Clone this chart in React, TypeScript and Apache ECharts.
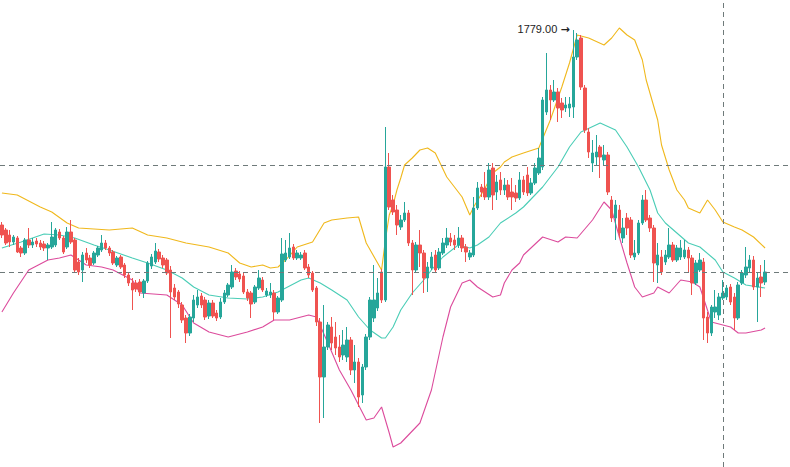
import React, { useEffect, useRef } from "react";
import * as echarts from "echarts";

// candle count and empty slots to the right edge
const categories: string[] = Array.from({ length: 206 }, (_, i) => String(i + 1));

const opens = [
  1681.5, 1679, 1676.5, 1673, 1675, 1670, 1667.5, 1674, 1671.5, 1673.5,
  1672.5, 1672, 1670, 1670.5, 1671.5, 1678, 1675, 1670.5, 1678, 1674,
  1663, 1659, 1667.5, 1665, 1662.5, 1666.5, 1669, 1672.5, 1670, 1668,
  1661.5, 1665.5, 1661.5, 1656.5, 1652.5, 1652.5, 1653, 1647.5, 1653.5, 1661,
  1663, 1668, 1665, 1664, 1659, 1650, 1648, 1641.5, 1635, 1627.5,
  1635, 1641.5, 1646, 1644, 1636, 1642.5, 1637.5, 1635.5, 1643, 1646.5,
  1650.5, 1658.5, 1657, 1656, 1648, 1647.5, 1643, 1650, 1654, 1646.5,
  1646.5, 1647.5, 1638, 1644, 1664, 1665.5, 1670.5, 1665, 1665, 1667.5,
  1660.5, 1657.5, 1650, 1633, 1605.5, 1620.5, 1630.5, 1625.5, 1620.5, 1616.5,
  1615.5, 1624, 1609, 1613, 1596.5, 1610.5, 1625.5, 1635, 1640, 1658,
  1644, 1710.5, 1694, 1689, 1680.5, 1684, 1687.5, 1672.5, 1659, 1671.5,
  1667.5, 1655, 1660, 1666.5, 1660, 1667.5, 1671.5, 1675, 1674, 1671.5,
  1675, 1670.5, 1665.5, 1666.5, 1690, 1700.5, 1700, 1695.5, 1710, 1698,
  1704, 1699, 1701.5, 1698, 1697.5, 1695, 1704, 1706.5, 1697.5, 1702.5,
  1707.5, 1710.5, 1738, 1749, 1744, 1748, 1742.5, 1740, 1740, 1740.5,
  1765.5, 1775, 1750, 1728, 1712.5, 1715.5, 1720.5, 1714, 1716.5, 1694,
  1685, 1689, 1675, 1685, 1684, 1665.5, 1667.5, 1682.5, 1694, 1685,
  1680, 1661.5, 1665.5, 1663, 1665.5, 1671.5, 1664, 1665.5, 1665.5, 1669,
  1665, 1652.5, 1659, 1663, 1635.5, 1627.5, 1638, 1636.5, 1645, 1645.5,
  1650.5, 1645.5, 1635, 1652.5, 1656.5, 1660, 1664, 1650.5, 1655.5, 1653,
];

const closes = [
  1676.5, 1672.5, 1673, 1675.5, 1668, 1667.5, 1674, 1671.5, 1673, 1672,
  1670.5, 1670, 1671.5, 1675.5, 1679, 1675, 1668, 1678, 1673, 1659,
  1658, 1666.5, 1664, 1661.5, 1667.5, 1670, 1672.5, 1670, 1667.5, 1662.5,
  1665, 1660.5, 1656.5, 1652.5, 1649, 1649.5, 1648, 1653.5, 1662.5, 1665.5,
  1668.5, 1664.5, 1661.5, 1657.5, 1648, 1645.5, 1642, 1634, 1627.5, 1635.5,
  1644, 1645.5, 1641.5, 1635.5, 1642.5, 1636, 1635, 1643, 1647.5, 1651.5,
  1658, 1655.5, 1654.5, 1648, 1645, 1642, 1650.5, 1655, 1649, 1648.5,
  1648, 1638, 1645, 1667, 1667.5, 1670, 1665, 1667.5, 1666.5, 1660,
  1656.5, 1649, 1633, 1605.5, 1620.5, 1631.5, 1622.5, 1620, 1615.5, 1621.5,
  1624, 1609, 1613, 1595.5, 1610.5, 1625.5, 1644, 1644, 1647.5, 1644,
  1710.5, 1690.5, 1688, 1681.5, 1684, 1687.5, 1672.5, 1659, 1671.5, 1667.5,
  1655, 1660.5, 1665.5, 1659, 1668, 1672.5, 1675, 1673, 1671.5, 1675,
  1670, 1668, 1667.5, 1690, 1700, 1698, 1695.5, 1709, 1696.5, 1703,
  1699, 1701.5, 1695.5, 1695.5, 1695, 1704, 1698, 1697.5, 1702.5, 1710,
  1715, 1744, 1749, 1744, 1748, 1740, 1739, 1741.5, 1742, 1765.5,
  1774, 1750.5, 1729, 1718, 1717.5, 1718, 1715.5, 1716.5, 1698, 1685,
  1691.5, 1677.5, 1680, 1680, 1666.5, 1667.5, 1682.5, 1694, 1684, 1680,
  1662.5, 1666.5, 1658, 1666.5, 1671.5, 1664, 1670, 1670, 1669, 1665,
  1652.5, 1662.5, 1664, 1635, 1627.5, 1640.5, 1640.5, 1645.5, 1647.5, 1650,
  1643, 1635, 1651.5, 1657.5, 1660.5, 1664, 1650.5, 1655, 1652.5, 1658,
];

const lows = [
  1675, 1671.5, 1670.5, 1671.5, 1667.5, 1665.5, 1666.5, 1670, 1670, 1670.5,
  1669, 1668.5, 1664, 1669.5, 1670.5, 1674, 1667, 1669.5, 1672, 1658,
  1656.5, 1653, 1662.5, 1660, 1661.5, 1665.5, 1668, 1669, 1666, 1661.5,
  1660.5, 1659.5, 1655, 1651, 1639, 1648, 1646, 1645, 1652.5, 1659.5,
  1662, 1663, 1660, 1656.5, 1625, 1644, 1640, 1632.5, 1622.5, 1626,
  1633, 1640, 1640, 1634, 1634.5, 1635, 1633.5, 1634.5, 1642, 1645.5,
  1649.5, 1654, 1653, 1647, 1643.5, 1635, 1642, 1649, 1648, 1645.5,
  1645, 1634, 1637, 1643, 1663, 1664.5, 1664, 1664, 1664, 1659,
  1655, 1648, 1631, 1582.5, 1585, 1619, 1619, 1616.5, 1613, 1614,
  1613, 1606.5, 1602.5, 1590.5, 1592.5, 1609, 1624, 1633, 1638.5, 1642.5,
  1643, 1689, 1686.5, 1676.5, 1679, 1683, 1671, 1646.5, 1657.5, 1660.5,
  1647.5, 1648, 1659, 1657.5, 1659, 1666.5, 1670, 1671, 1669, 1670,
  1668, 1663, 1664, 1665.5, 1689, 1695.5, 1694, 1694, 1689, 1694,
  1696.5, 1696.5, 1694, 1689, 1693, 1694, 1696.5, 1696, 1696.5, 1701.5,
  1706.5, 1709, 1736.5, 1734, 1743, 1733, 1735, 1738, 1735.5, 1735,
  1764, 1749, 1727.5, 1715, 1708, 1711.5, 1705, 1711.5, 1696.5, 1683,
  1674, 1675, 1672.5, 1676.5, 1665, 1664, 1666.5, 1681.5, 1683, 1678,
  1653, 1652.5, 1656.5, 1661.5, 1664.5, 1663, 1663, 1664, 1664.5, 1658,
  1646.5, 1651.5, 1658, 1624, 1622.5, 1626, 1635, 1634, 1644, 1644,
  1641.5, 1629, 1634, 1651.5, 1655, 1658, 1649, 1633, 1645.5, 1651.5,
];

const highs = [
  1683, 1680, 1679, 1676.5, 1676, 1671, 1675, 1680, 1675, 1675,
  1674, 1673.5, 1672.5, 1683, 1680, 1679.5, 1676, 1680.5, 1684, 1675,
  1665, 1668, 1670, 1666.5, 1668.5, 1671, 1676.5, 1674, 1671, 1669,
  1666, 1666.5, 1662.5, 1658, 1655, 1654, 1654.5, 1654.5, 1663.5, 1667,
  1672.5, 1669.5, 1666.5, 1665, 1661, 1652, 1649, 1643, 1636.5, 1637,
  1646.5, 1649, 1647.5, 1645.5, 1644, 1644, 1639, 1645, 1649, 1652.5,
  1661.5, 1660, 1658.5, 1657.5, 1649.5, 1648.5, 1651.5, 1659, 1655.5, 1650,
  1652.5, 1649, 1646, 1675, 1674, 1677.5, 1672, 1669, 1668, 1669,
  1662, 1658.5, 1651, 1635, 1641.5, 1633, 1635.5, 1633, 1626.5, 1629,
  1630.5, 1625.5, 1621.5, 1615, 1612, 1627, 1645.5, 1661.5, 1655, 1659.5,
  1730.5, 1717.5, 1696.5, 1691.5, 1686.5, 1693, 1689, 1674, 1673, 1679,
  1669, 1663, 1668, 1669, 1670, 1675, 1680, 1677.5, 1676.5, 1680.5,
  1676.5, 1672, 1669, 1695.5, 1703, 1702, 1708, 1712.5, 1712.5, 1706.5,
  1708, 1705, 1704, 1705, 1701.5, 1708, 1706, 1710.5, 1705, 1712.5,
  1720, 1745.5, 1767.5, 1751.5, 1754, 1750, 1745, 1745.5, 1745.5, 1779,
  1777.5, 1776.5, 1751.5, 1730, 1724, 1726.5, 1721.5, 1721.5, 1718, 1696,
  1694, 1691.5, 1685, 1687.5, 1685.5, 1674, 1684, 1696.5, 1699, 1686.5,
  1681.5, 1672.5, 1669, 1669, 1680, 1673, 1671.5, 1674, 1674, 1670.5,
  1666.5, 1664, 1667.5, 1665, 1638, 1641.5, 1649, 1647.5, 1654, 1651.5,
  1652, 1647.5, 1653, 1659, 1670.5, 1666.5, 1666, 1658, 1661.5, 1664,
];

// Bollinger bands read at their vertices: [candle index, price]
const upperBand = [
  [0, 1697.5], [4, 1696.5], [10, 1690.5], [13, 1688], [17, 1682.5], [20, 1680], [28, 1679], [34, 1680],
  [38, 1676.5], [43, 1675], [48, 1672.5], [54, 1670.5], [59, 1667.5], [62, 1662.5], [65, 1660.5],
  [68, 1661.5], [70, 1660], [72, 1660.5], [74, 1664], [77, 1670.5], [81, 1673], [84, 1682.5],
  [86, 1684], [90, 1685], [93, 1685.5], [95, 1672.5], [99, 1659], [100, 1674], [101, 1686.5],
  [102, 1691.5], [103, 1699], [104, 1705], [105, 1711.5], [107, 1715], [109, 1719], [111, 1720],
  [113, 1717.5], [116, 1705.5], [118, 1700.5], [120, 1695.5], [122, 1686.5], [123, 1690.5],
  [126, 1700], [128, 1707.5], [130, 1710.5], [131, 1713], [133, 1715.5], [136, 1717.5], [140, 1720],
  [143, 1734], [146, 1750.5], [148, 1762.5], [150, 1776.5], [153, 1775], [157, 1771.5], [159, 1775],
  [161, 1780], [163, 1776.5], [165, 1774], [167, 1764], [168, 1754], [171, 1734], [172, 1721.5],
  [174, 1709], [176, 1699], [178, 1694], [179, 1690], [182, 1687.5], [184, 1694], [186, 1689],
  [188, 1683], [191, 1680.5], [193, 1679], [196, 1675.5], [199, 1670],
];

const middleBand = [
  [0, 1670], [5, 1673], [11, 1677], [15, 1676.5], [19, 1675], [24, 1671.5], [28, 1669], [34, 1665],
  [38, 1662.5], [43, 1659], [47, 1655], [50, 1650.5], [54, 1646.5], [59, 1645], [64, 1644.5],
  [68, 1645.5], [72, 1648], [78, 1654], [80, 1655], [83, 1652.5], [86, 1649], [90, 1644],
  [93, 1635.5], [96, 1629], [99, 1625], [100, 1625], [102, 1630.5], [104, 1639], [107, 1647.5],
  [110, 1654], [112, 1659], [115, 1665.5], [119, 1671.5], [122, 1670], [124, 1671.5], [127, 1675.5],
  [130, 1682.5], [134, 1687.5], [136, 1690.5], [141, 1700.5], [145, 1710.5], [148, 1720.5],
  [151, 1728], [156, 1732.5], [160, 1729], [163, 1720.5], [166, 1710.5], [169, 1699], [171, 1687.5],
  [173, 1682.5], [176, 1677.5], [179, 1672.5], [182, 1670.5], [186, 1664], [188, 1658], [191, 1655],
  [194, 1651.5], [199, 1650],
];

const lowerBand = [
  [0, 1638], [3, 1647.5], [7, 1659], [12, 1664], [15, 1665], [18, 1666.5], [22, 1661.5], [26, 1660.5],
  [29, 1659], [34, 1654], [36, 1647.5], [43, 1646.5], [47, 1641.5], [50, 1632.5], [54, 1628],
  [59, 1625.5], [64, 1628], [68, 1630.5], [71, 1634], [75, 1634], [80, 1636.5], [82, 1635.5],
  [85, 1622.5], [88, 1609], [91, 1599], [95, 1584], [97, 1585], [99, 1590.5], [101, 1577.5],
  [102, 1570.5], [104, 1572.5], [109, 1582.5], [112, 1599], [115, 1625.5], [117, 1640.5],
  [120, 1652.5], [122, 1654], [124, 1650.5], [128, 1645.5], [130, 1646.5], [131, 1652.5], [133, 1659],
  [135, 1662.5], [136, 1666.5], [141, 1675.5], [145, 1673], [147, 1675.5], [150, 1675], [154, 1684],
  [157, 1693], [159, 1689], [161, 1675.5], [163, 1662.5], [165, 1650.5], [167, 1645.5], [170, 1647.5],
  [171, 1650.5], [174, 1647.5], [177, 1654], [180, 1653], [182, 1650.5], [185, 1633], [190, 1630.5],
  [192, 1627.5], [194, 1627.5], [198, 1629], [199, 1630],
];

const priceLines = [1711.5, 1658];
const crosshairIndex = 188;
const highMark = { index: 149, value: 1779, text: "1779.00", arrow: "→" };

export default function App() {
  const ref = useRef<HTMLDivElement>(null);

  useEffect(() => {
    if (!ref.current) return;
    const chart = echarts.init(ref.current, undefined, { renderer: "svg" });
    const candles = opens.map((o, i) => [o, closes[i], lows[i], highs[i]]);

    chart.setOption({
      animation: false,
      backgroundColor: "#ffffff",
      grid: { left: 0, right: 0, top: 0, bottom: 0 },
      xAxis: {
        type: "category",
        data: categories,
        boundaryGap: true,
        show: false,
      },
      yAxis: {
        type: "value",
        min: 1560.5,
        max: 1794,
        show: false,
        splitLine: { show: false },
      },
      series: [
        {
          type: "line",
          data: upperBand,
          showSymbol: false,
          lineStyle: { color: "#f0b81c", width: 1.1 },
          z: 1,
        },
        {
          type: "line",
          data: middleBand,
          showSymbol: false,
          lineStyle: { color: "#4acdb6", width: 1.1 },
          z: 1,
        },
        {
          type: "line",
          data: lowerBand,
          showSymbol: false,
          lineStyle: { color: "#dc4b9c", width: 1.1 },
          z: 1,
        },
        {
          type: "candlestick",
          data: candles,
          barWidth: 3,
          z: 3,
          itemStyle: {
            color: "#26a69a",
            color0: "#ef5350",
            borderColor: "#26a69a",
            borderColor0: "#ef5350",
            borderWidth: 1,
          },
          markLine: {
            silent: true,
            symbol: ["none", "none"],
            label: { show: false },
            lineStyle: { type: [5, 4], width: 1, color: "#6f7a7a" },
            data: [
              ...priceLines.map((p) => ({ yAxis: p })),
              { xAxis: crosshairIndex },
            ],
          },
          markPoint: {
            silent: true,
            data: [
              {
                coord: [highMark.index, highMark.value],
                symbol: "circle",
                symbolSize: 1,
                itemStyle: { color: "rgba(0,0,0,0)" },
                label: {
                  show: true,
                  position: "left",
                  distance: 3,
                  offset: [0, -1],
                  formatter: `{t|${highMark.text}} {a|${highMark.arrow}}`,
                  rich: {
                    t: {
                      color: "#222222",
                      fontSize: 11,
                      fontFamily: "Liberation Sans, Arial, sans-serif",
                    },
                    a: {
                      color: "#222222",
                      fontSize: 11,
                      fontWeight: "bold",
                      fontFamily: "DejaVu Sans, sans-serif",
                    },
                  },
                },
              },
            ],
          },
        },
      ],
    });

    return () => chart.dispose();
  }, []);

  return (
    <div
      ref={ref}
      style={{ position: "fixed", left: 0, top: 0, width: 790, height: 467, background: "#fff" }}
    />
  );
}
